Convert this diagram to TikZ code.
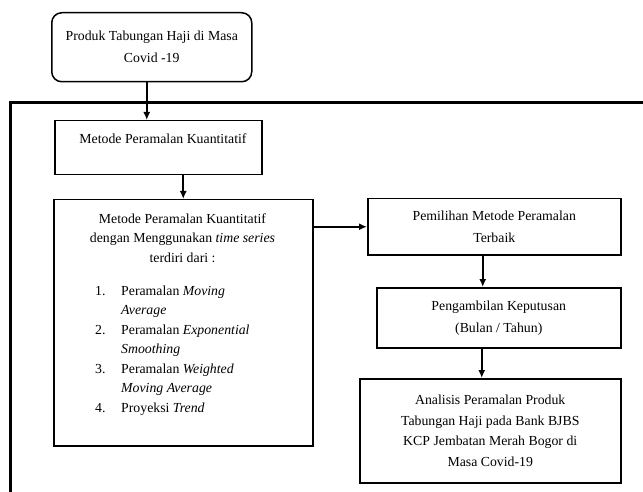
\documentclass[tikz,border=0pt]{standalone}
\usepackage{fontspec}
\setmainfont{Liberation Serif}
\usetikzlibrary{arrows.meta}
\begin{document}
\begin{tikzpicture}[x=1pt,y=-1pt,
 box/.style={draw,line width=1.5pt,inner sep=0pt,anchor=north west,align=center,font=\fontsize{13.8}{22}\selectfont},
 arr/.style={line width=1.6pt,-{Latex[length=8pt,width=7pt]}},
 txt/.style={inner sep=0pt,align=center,font=\fontsize{13.8}{19.5}\selectfont}]
\useasboundingbox (0,0) rectangle (643,492);
\draw[line width=3pt] (10,492) -- (10,103) -- (643,103);
\node[box,rounded corners=10pt,minimum width=200pt,minimum height=69pt] (top) at (51,12) {Produk Tabungan Haji di Masa\\Covid -19};
\node[box,minimum width=207pt,minimum height=54pt] (kuant) at (54,120) {};
\node[txt] (kuanttxt) at (163,139) {Metode Peramalan Kuantitatif};
\node[box,minimum width=259pt,minimum height=246pt] (ts) at (53,199) {};
\node[txt] (tshead) at (182.5,238) {Metode Peramalan Kuantitatif\\dengan Menggunakan \textit{time series}\\terdiri dari :};
\node[txt,anchor=base west] (tslist) at (95,295) {\begin{tabular}[t]{@{}p{26pt}@{}l@{}}
1. & Peramalan \textit{Moving}\\
   & \textit{Average}\\
2. & Peramalan \textit{Exponential}\\
   & \textit{Smoothing}\\
3. & Peramalan \textit{Weighted}\\
   & \textit{Moving Average}\\
4. & Proyeksi \textit{Trend}
\end{tabular}};
\node[box,minimum width=253pt,minimum height=56pt] (pilih) at (367,198) {Pemilihan Metode Peramalan\\Terbaik};
\node[box,minimum width=244pt,minimum height=60pt] (ambil) at (376,287) {Pengambilan Keputusan\\(Bulan / Tahun)};
\node[box,minimum width=261pt,minimum height=104pt,font=\fontsize{13.8}{20.5}\selectfont] (anal) at (359,378) {Analisis Peramalan Produk\\Tabungan Haji pada Bank BJBS\\KCP Jembatan Merah Bogor di\\Masa Covid-19};
\draw[arr] ([xshift=-5pt]top.south) -- ([xshift=-5pt]top.south |- kuant.north);
\draw[arr] (kuant.south -| ts.north) -- (ts.north);
\draw[arr] (pilih.west -| ts.east) -- (pilih.west);
\draw[arr] ([xshift=-11.5pt]pilih.south) -- ([xshift=-11.5pt]pilih.south |- ambil.north);
\draw[arr] ([xshift=-17pt]ambil.south) -- ([xshift=-17pt]ambil.south |- anal.north);
\end{tikzpicture}
\end{document}
